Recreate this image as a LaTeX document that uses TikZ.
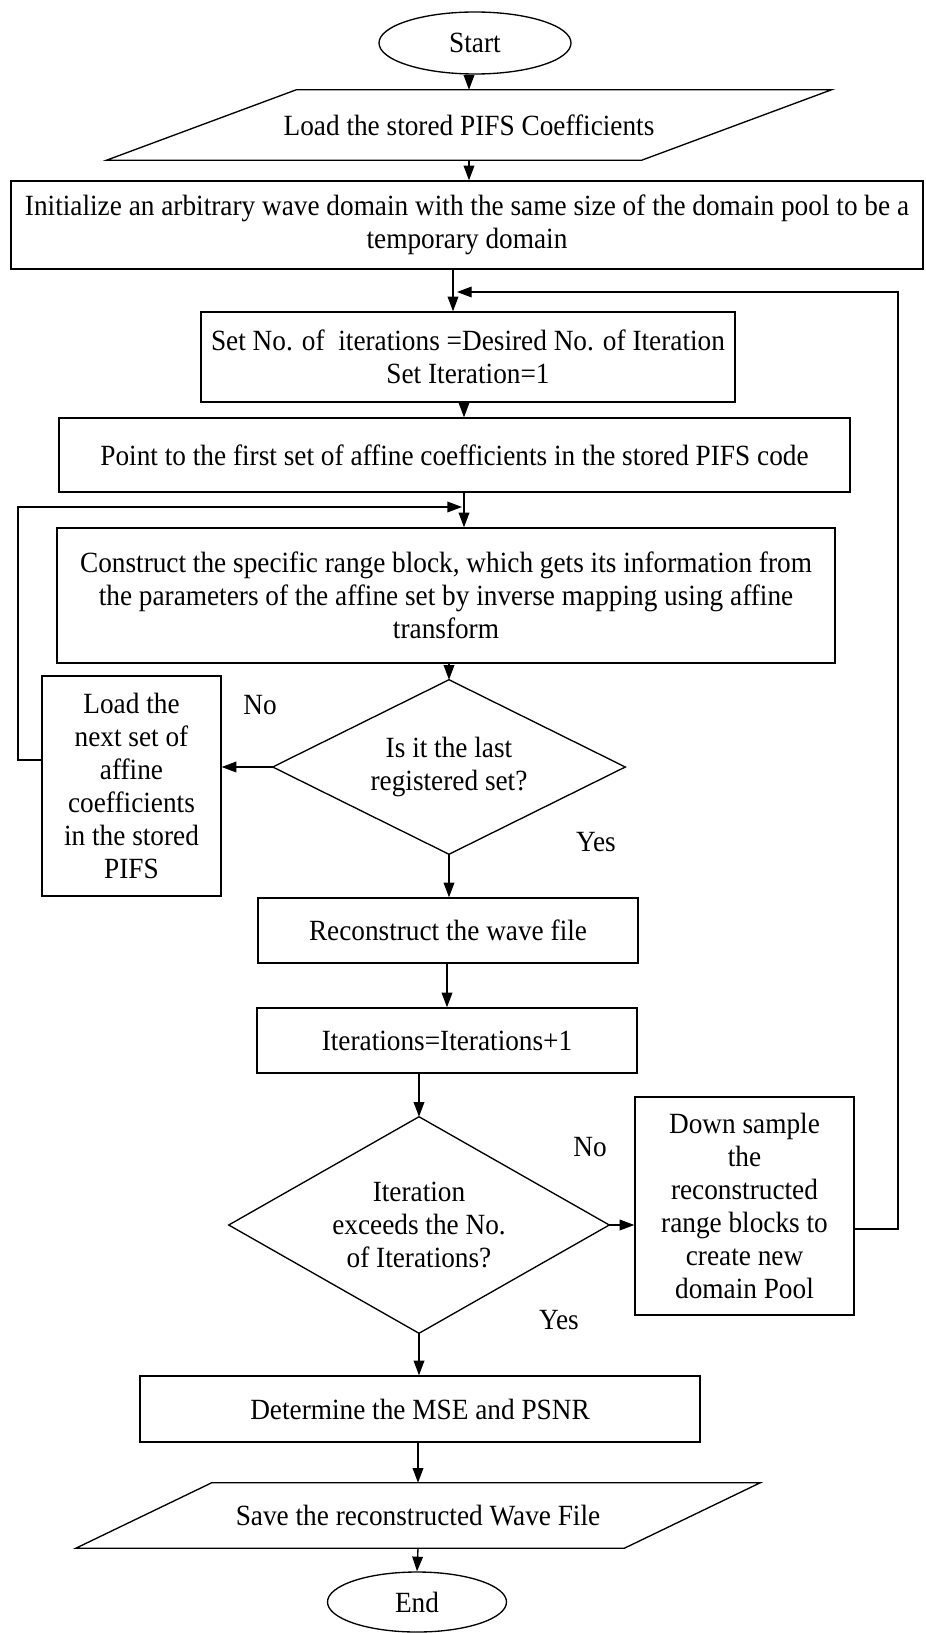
\documentclass[tikz,border=0pt]{standalone}
\usepackage{fontspec}
\setmainfont{Liberation Serif}[FakeStretch=0.93]
\usetikzlibrary{shapes.geometric,arrows.meta,calc}
\begin{document}
\begin{tikzpicture}[x=0.75pt,y=-0.75pt,
  every node/.style={font=\fontsize{22}{24.75}\selectfont, inner sep=0pt, align=center},
  box/.style={draw, line width=1pt, rectangle},
  term/.style={draw, line width=1pt, ellipse},
  dec/.style={rectangle},
  io/.style={rectangle},
  lbl/.style={},
  arr/.style={line width=1pt, -{Triangle[length=11pt,width=8pt]}},
  ln/.style={line width=1pt, line join=miter}
]
\useasboundingbox (0,0) rectangle (925,1633);

\node[term, minimum width=144pt, minimum height=46.5pt] (start) at (475,43) {Start};
\node[io, minimum width=401pt, minimum height=52.5pt] (load) at (469,125) {\raisebox{-5pt}{Load the stored PIFS Coefficients}};
\draw[ln] ($(load.south west)+(-95,0)$) -- ($(load.north west)+(95,0)$) -- ($(load.north east)+(95,0)$) -- ($(load.south east)+(-95,0)$) -- cycle;
\node[box, minimum width=684pt, minimum height=66pt] (init) at (467,225) {Initialize an arbitrary wave domain with the same size of the domain pool to be a\\ temporary domain};
\node[box, minimum width=400.5pt, minimum height=67.5pt] (setno) at (468,357) {Set No. of\ \ iterations =Desired No. of Iteration\\ Set Iteration=1};
\node[box, minimum width=593.25pt, minimum height=55.5pt] (point) at (454.5,455) {Point to the first set of affine coefficients in the stored PIFS code};
\node[box, minimum width=583.5pt, minimum height=101.25pt] (construct) at (446,595.5) {Construct the specific range block, which gets its information from\\ the parameters of the affine set by inverse mapping using affine\\ transform};
\node[dec, minimum width=264pt, minimum height=130.5pt] (dia1) at (449,767) {Is it the last\\ registered set?};
\draw[ln] (dia1.north) -- (dia1.east) -- (dia1.south) -- (dia1.west) -- cycle;
\node[box, minimum width=134.25pt, minimum height=165pt] (loadnext) at (131.5,786) {Load the\\ next set of\\ affine\\ coefficients\\ in the stored\\ PIFS};
\node[box, minimum width=285pt, minimum height=48.75pt] (recon) at (448,930.5) {Reconstruct the wave file};
\node[box, minimum width=285pt, minimum height=48.75pt] (iter) at (447,1040.5) {Iterations=Iterations+1};
\node[dec, minimum width=285pt, minimum height=162pt] (dia2) at (419,1225) {Iteration\\ exceeds the No.\\ of Iterations?};
\draw[ln] (dia2.north) -- (dia2.east) -- (dia2.south) -- (dia2.west) -- cycle;
\node[box, minimum width=164.25pt, minimum height=163.5pt] (down) at (744.5,1206) {Down sample\\ the\\ reconstructed\\ range blocks to\\ create new\\ domain Pool};
\node[box, minimum width=420pt, minimum height=49.5pt] (mse) at (420,1409) {Determine the MSE and PSNR};
\node[io, minimum width=411pt, minimum height=48.75pt] (save) at (418,1515.5) {Save the reconstructed Wave File};
\draw[ln] ($(save.south west)+(-68,0)$) -- ($(save.north west)+(68,0)$) -- ($(save.north east)+(68,0)$) -- ($(save.south east)+(-68,0)$) -- cycle;
\node[term, minimum width=134.25pt, minimum height=45pt] (end) at (417,1602) {End};

\node[lbl] (no1) at (260,705) {No};
\node[lbl] (yes1) at (596,842) {Yes};
\node[lbl] (no2) at (590,1147) {No};
\node[lbl] (yes2) at (559,1320) {Yes};

\coordinate (j1) at (453,292);
\coordinate (j1e) at (457,292);
\coordinate (rx) at (898,1229);
\coordinate (j2) at (464,507);
\coordinate (j2e) at (462,507);
\coordinate (lx) at (18,760);

\draw[arr] (start.south -| load.north) -- (load.north);
\draw[arr] (load.south) -- (init.north -| load.south);
\draw[arr] (init.south -| j1) -- (setno.north -| j1);
\draw[arr] (setno.south -| j2) -- (point.north -| j2);
\draw[arr] (point.south -| j2) -- (construct.north -| j2);
\draw[arr] (construct.south -| dia1.north) -- (dia1.north);
\draw[arr] (dia1.west) -- (loadnext.east |- dia1.west);
\draw[arr] (loadnext.west |- lx) -- (lx) -- (lx |- j2e) -- (j2e);
\draw[arr] (dia1.south) -- (recon.north -| dia1.south);
\draw[arr] (recon.south -| iter.north) -- (iter.north);
\draw[arr] (iter.south -| dia2.north) -- (dia2.north);
\draw[arr] (dia2.east) -- (down.west |- dia2.east);
\draw[arr] (down.east |- rx) -- (rx) -- (rx |- j1e) -- (j1e);
\draw[arr] (dia2.south) -- (mse.north -| dia2.south);
\draw[arr] (mse.south -| save.north) -- (save.north);
\draw[arr] (save.south) -- (end.north);
\end{tikzpicture}
\end{document}
